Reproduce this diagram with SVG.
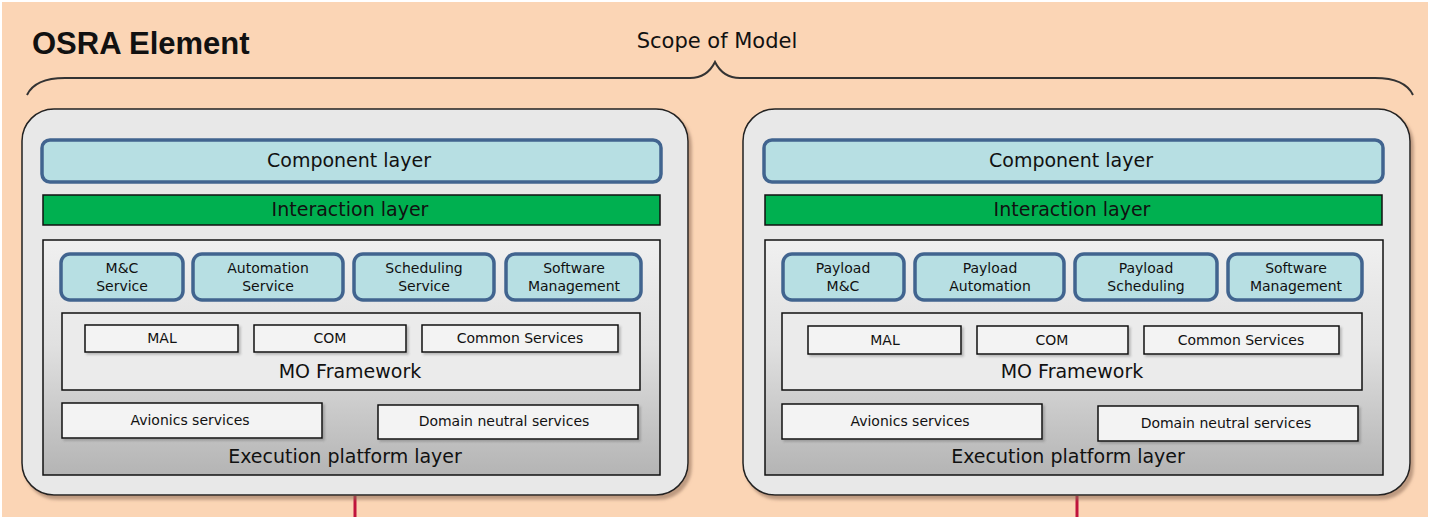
<svg xmlns="http://www.w3.org/2000/svg" width="1430" height="517" viewBox="0 0 1430 517">
<defs>
<linearGradient id="execGrad" x1="0" y1="0" x2="0" y2="1">
<stop offset="0" stop-color="#F0F0F0"/>
<stop offset="0.45" stop-color="#E0E0E0"/>
<stop offset="1" stop-color="#B4B4B4"/>
</linearGradient>
<filter id="sh" x="-5%" y="-5%" width="112%" height="115%">
<feDropShadow dx="3" dy="4" stdDeviation="1.5" flood-color="#8A6A55" flood-opacity="0.55"/>
</filter>
<filter id="sh2" x="-5%" y="-10%" width="112%" height="130%">
<feDropShadow dx="2" dy="2" stdDeviation="1" flood-color="#555" flood-opacity="0.35"/>
</filter>
</defs>
<style>
text{font-family:"DejaVu Sans","Liberation Sans",sans-serif;fill:#111;text-anchor:middle}
.panel{fill:#E8E8E8;stroke:#222;stroke-width:1.5}
.comp{fill:#B7DFE3;stroke:#41648F;stroke-width:3.5}
.inter{fill:#00B050;stroke:#111;stroke-width:1.5}
.exec{fill:url(#execGrad);stroke:#111;stroke-width:1.5}
.svc{fill:#B7DFE3;stroke:#41648F;stroke-width:3.5}
.mo{fill:#EBEBEB;stroke:#111;stroke-width:1.5}
.wbox{fill:#F3F3F3;stroke:#111;stroke-width:1.5}
.big{font-size:19px}
.sm{font-size:14px}
.red{stroke:#C0143C;stroke-width:3}
</style>
<rect x="0" y="0" width="1430" height="517" fill="#FFFFFF"/>
<rect x="2" y="2" width="1426" height="515" fill="#FBD5B5"/>
<text x="32" y="54" style="font-family:'Liberation Sans',Arial,sans-serif;font-size:31px;font-weight:bold;text-anchor:start">OSRA Element</text>
<text x="717" y="48" style="font-size:21px">Scope of Model</text>
<g id="connectors">
<path d="M27,95 Q35,78 65,78 L690,78 Q707,78 715,62 Q723,78 740,78 L1375,78 Q1405,78 1413,95" fill="none" stroke="#333" stroke-width="2"/>
<line class="red" x1="355" y1="496" x2="355" y2="517"/>
<line class="red" x1="1077" y1="496" x2="1077" y2="517"/>
</g>
<g id="panel-left">
<rect class="panel" x="22" y="109" width="666" height="386" rx="32" filter="url(#sh)"/>
<rect class="comp" x="42" y="140" width="619" height="42" rx="8"/>
<text class="big" x="349" y="167">Component layer</text>
<rect class="inter" x="43" y="195" width="617" height="30"/>
<text class="big" x="350" y="216">Interaction layer</text>
<rect class="exec" x="43" y="240" width="617" height="235"/>
<text class="big" x="345" y="463">Execution platform layer</text>
<g id="svc-mc"><rect class="svc" x="61" y="254" width="122" height="46" rx="9"/><text class="sm" x="122" y="273">M&amp;C</text><text class="sm" x="122" y="291">Service</text></g>
<g id="svc-auto"><rect class="svc" x="193" y="254" width="150" height="46" rx="9"/><text class="sm" x="268" y="273">Automation</text><text class="sm" x="268" y="291">Service</text></g>
<g id="svc-sched"><rect class="svc" x="354" y="254" width="140" height="46" rx="9"/><text class="sm" x="424" y="273">Scheduling</text><text class="sm" x="424" y="291">Service</text></g>
<g id="svc-sw"><rect class="svc" x="506" y="254" width="135" height="46" rx="9"/><text class="sm" x="574" y="273">Software</text><text class="sm" x="574" y="291">Management</text></g>
<g id="mo-left">
<rect class="mo" x="62" y="313" width="578" height="77"/>
<text class="big" x="350" y="378">MO Framework</text>
<rect class="wbox" x="85" y="325" width="153" height="27" filter="url(#sh2)"/><text class="sm" x="162" y="343">MAL</text>
<rect class="wbox" x="254" y="325" width="152" height="27" filter="url(#sh2)"/><text class="sm" x="330" y="343">COM</text>
<rect class="wbox" x="422" y="325" width="196" height="27" filter="url(#sh2)"/><text class="sm" x="520" y="343">Common Services</text>
</g>
<rect class="wbox" x="62" y="403" width="260" height="35" filter="url(#sh2)"/><text class="sm" x="190" y="425">Avionics services</text>
<rect class="wbox" x="378" y="405" width="260" height="34" filter="url(#sh2)"/><text class="sm" x="504" y="426">Domain neutral services</text>
</g>
<g id="panel-right">
<rect class="panel" x="743" y="109" width="667" height="386" rx="32" filter="url(#sh)"/>
<rect class="comp" x="764" y="140" width="619" height="42" rx="8"/>
<text class="big" x="1071" y="167">Component layer</text>
<rect class="inter" x="765" y="195" width="617" height="30"/>
<text class="big" x="1072" y="216">Interaction layer</text>
<rect class="exec" x="765" y="240" width="618" height="235"/>
<text class="big" x="1068" y="463">Execution platform layer</text>
<g id="svc-pmc"><rect class="svc" x="783" y="254" width="121" height="46" rx="9"/><text class="sm" x="843" y="273">Payload</text><text class="sm" x="843" y="291">M&amp;C</text></g>
<g id="svc-pauto"><rect class="svc" x="915" y="254" width="149" height="46" rx="9"/><text class="sm" x="990" y="273">Payload</text><text class="sm" x="990" y="291">Automation</text></g>
<g id="svc-psched"><rect class="svc" x="1075" y="254" width="142" height="46" rx="9"/><text class="sm" x="1146" y="273">Payload</text><text class="sm" x="1146" y="291">Scheduling</text></g>
<g id="svc-psw"><rect class="svc" x="1228" y="254" width="134" height="46" rx="9"/><text class="sm" x="1296" y="273">Software</text><text class="sm" x="1296" y="291">Management</text></g>
<g id="mo-right">
<rect class="mo" x="782" y="313" width="580" height="77"/>
<text class="big" x="1072" y="378">MO Framework</text>
<rect class="wbox" x="808" y="326" width="153" height="28" filter="url(#sh2)"/><text class="sm" x="885" y="345">MAL</text>
<rect class="wbox" x="977" y="326" width="151" height="28" filter="url(#sh2)"/><text class="sm" x="1052" y="345">COM</text>
<rect class="wbox" x="1144" y="326" width="195" height="28" filter="url(#sh2)"/><text class="sm" x="1241" y="345">Common Services</text>
</g>
<rect class="wbox" x="782" y="404" width="260" height="35" filter="url(#sh2)"/><text class="sm" x="910" y="426">Avionics services</text>
<rect class="wbox" x="1098" y="406" width="260" height="35" filter="url(#sh2)"/><text class="sm" x="1226" y="428">Domain neutral services</text>
</g>
</svg>
